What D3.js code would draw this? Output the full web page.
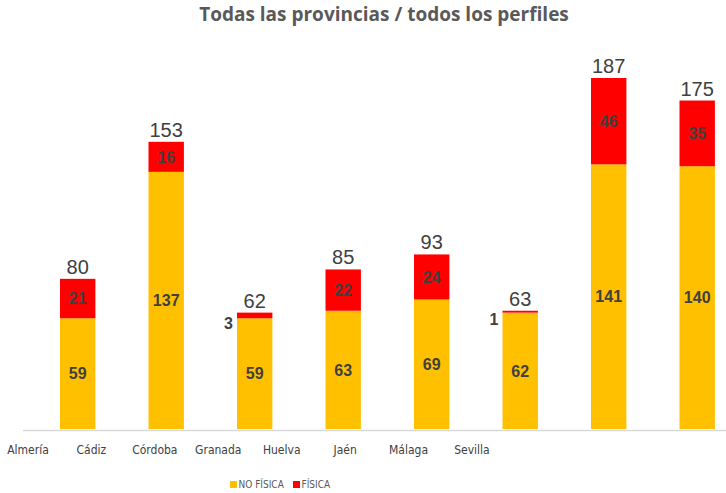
<!DOCTYPE html>
<html>
<head>
<meta charset="utf-8">
<script src="https://cdn.jsdelivr.net/npm/d3@7"></script>
<style>
  body { margin: 0; background: #fff; }
  svg { display: block; }
</style>
</head>
<body>
<svg id="chart" width="726" height="493"></svg>
<script>
// data
var categories = ["Almería", "Cádiz", "Córdoba", "Granada", "Huelva", "Jaén", "Málaga", "Sevilla"];
var noFisica = [59, 137, 59, 63, 69, 62, 141, 140];
var fisica = [21, 16, 3, 22, 24, 1, 46, 35];
var seriesNames = ["NO FÍSICA", "FÍSICA"];
var colors = ["#FFC000", "#FF0000"];

var svg = d3.select("#chart");
var baseY = 429;

var rows = categories.map(function(c, i) {
    return { cat: c, noFisica: noFisica[i], fisica: fisica[i] };
});
var stack = d3.stack().keys(["noFisica", "fisica"]);
var layers = stack(rows);

// bars
var x = d3.scaleBand()
    .domain(categories)
    .range([33.45, 741.45])
    .paddingInner(0.6)
    .paddingOuter(0.3);

var y = d3.scaleLinear()
    .domain([0, 187])
    .range([baseY, 78]);

// category labels sit on their own (shifted) positions in the original
var xLab = d3.scalePoint()
    .domain(categories)
    .range([28, 472]);

// title
svg.append("text")
    .attr("x", 384)
    .attr("y", 21)
    .attr("text-anchor", "middle")
    .style("font-family", "Open Sans, sans-serif")
    .style("font-weight", "bold")
    .style("font-size", "19px")
    .style("fill", "#595959")
    .text("Todas las provincias / todos los perfiles");

// axis line
svg.append("line")
    .attr("x1", 23).attr("x2", 726)
    .attr("y1", baseY + 1.5).attr("y2", baseY + 1.5)
    .style("stroke", "#d9d9d9")
    .style("stroke-width", 1.5);

var g = svg.selectAll("g.layer")
    .data(layers)
    .enter()
    .append("g")
    .attr("class", "layer")
    .style("fill", function(d, i) { return colors[i]; });

g.selectAll("rect")
    .data(function(d) { return d; })
    .enter()
    .append("rect")
    .attr("x", function(d) { return x(d.data.cat); })
    .attr("width", x.bandwidth())
    .attr("y", function(d) { return y(d[1]); })
    .attr("height", function(d) { return y(d[0]) - y(d[1]); });

// segment labels
layers.forEach(function(layer) {
    layer.forEach(function(d) {
        var v = d[1] - d[0];
        var small = y(d[0]) - y(d[1]) < 14;
        svg.append("text")
            .attr("x", small ? x(d.data.cat) - 4 : x(d.data.cat) + x.bandwidth() / 2)
            .attr("y", small ? (y(d[0]) + y(d[1])) / 2 + 8 : (y(d[0]) + y(d[1])) / 2)
            .attr("dy", "0.36em")
            .attr("text-anchor", small ? "end" : "middle")
            .style("font-family", "Liberation Sans, Arial, sans-serif")
            .style("font-weight", "bold")
            .style("font-size", "16px")
            .style("fill", "#404040")
            .text(v);
    });
});

// totals
svg.selectAll("text.total")
    .data(rows)
    .enter()
    .append("text")
    .attr("class", "total")
    .attr("x", function(d) { return x(d.cat) + x.bandwidth() / 2; })
    .attr("y", function(d) { return y(d.noFisica + d.fisica) - 5; })
    .attr("text-anchor", "middle")
    .style("font-family", "Liberation Sans, Arial, sans-serif")
    .style("font-size", "20px")
    .style("fill", "#404040")
    .text(function(d) { return d.noFisica + d.fisica; });

// category labels
svg.selectAll("text.cat")
    .data(categories)
    .enter()
    .append("text")
    .attr("class", "cat")
    .attr("x", function(d) { return xLab(d); })
    .attr("y", 450)
    .attr("dy", "0.35em")
    .attr("text-anchor", "middle")
    .style("font-family", "DejaVu Sans Condensed, Liberation Sans Narrow, sans-serif")
    .style("font-stretch", "condensed")
    .style("font-size", "12px")
    .style("fill", "#404040")
    .text(function(d) { return d; });

// legend
var legendX = [230, 293];
var leg = svg.selectAll("g.legend")
    .data(seriesNames)
    .enter()
    .append("g")
    .attr("class", "legend")
    .attr("transform", function(d, i) { return "translate(" + legendX[i] + ",481)"; });

leg.append("rect")
    .attr("width", 7)
    .attr("height", 7)
    .style("fill", function(d, i) { return colors[i]; });

leg.append("text")
    .attr("x", 8.5)
    .attr("y", 3.5)
    .attr("dy", "0.35em")
    .style("font-family", "DejaVu Sans Condensed, sans-serif")
    .style("font-size", "10px")
    .style("fill", "#595959")
    .text(function(d) { return d; });
</script>
</body>
</html>
